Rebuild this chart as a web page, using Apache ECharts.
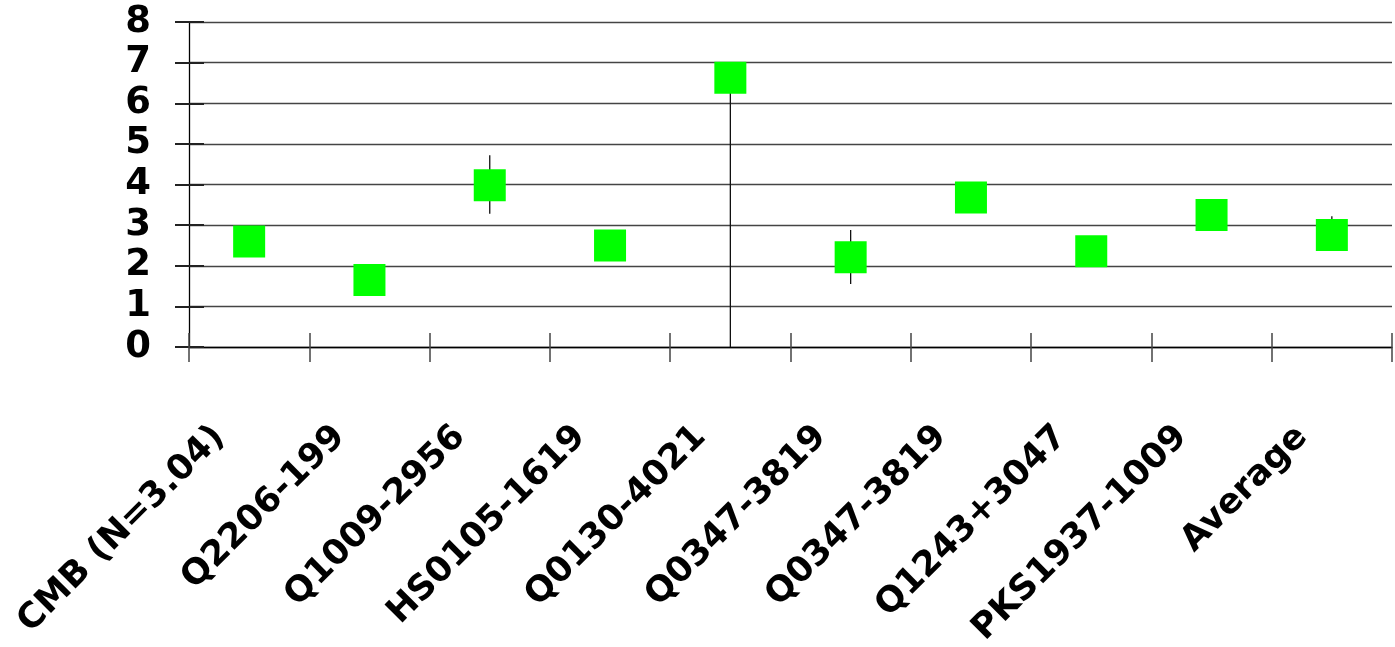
<!DOCTYPE html>
<html>
<head>
<meta charset="utf-8">
<script src="https://cdn.jsdelivr.net/npm/echarts@6/dist/echarts.min.js"></script>
<style>
html,body{margin:0;padding:0;background:#fff;}
#chart{width:1395px;height:647px;}
</style>
</head>
<body>
<div id="chart"></div>
<script>
var categories = ['CMB (N=3.04)', 'Q2206-199', 'Q1009-2956', 'HS0105-1619', 'Q0130-4021', 'Q0347-3819', 'Q0347-3819', 'Q1243+3047', 'PKS1937-1009', 'Average'];
var values = [2.6, 1.65, 3.98, 2.5, 6.63, 2.21, 3.68, 2.36, 3.25, 2.76];
var errLow = [null, null, 3.28, null, 0, 1.55, null, null, null, 2.4];
var errHigh = [null, null, 4.72, null, 6.63, 2.88, null, null, null, 3.22];
var yTicks = [0, 1, 2, 3, 4, 5, 6, 7, 8];

var font = '"DejaVu Sans", sans-serif';
var errData = [];
for (var i = 0; i < categories.length; i++) {
  if (errLow[i] !== null) errData.push([i, errLow[i], errHigh[i]]);
}

var chart = echarts.init(document.getElementById('chart'));
chart.setOption({
  animation: false,
  backgroundColor: '#fff',
  grid: {left: 189, right: 3, top: 22, bottom: 300, containLabel: false, outerBoundsMode: 'none'},
  xAxis: [{
    type: 'category',
    data: categories,
    boundaryGap: true,
    axisLine: {show: true, lineStyle: {color: '#000', width: 1.3}},
    axisTick: {show: true, inside: false, length: 15, lineStyle: {color: '#444', width: 1.5}},
    axisLabel: {
      interval: 0, rotate: 45, margin: 55, padding: [0, 42, 0, 0],
      fontFamily: font, fontWeight: 'bold', fontSize: 35, color: '#000'
    },
    splitLine: {show: false}
  }, {
    type: 'category',
    data: categories,
    position: 'bottom',
    boundaryGap: true,
    axisLine: {show: false},
    axisTick: {show: true, inside: true, length: 14, lineStyle: {color: '#444', width: 1.5}},
    axisLabel: {show: false},
    splitLine: {show: false}
  }],
  yAxis: [{
    type: 'value',
    min: yTicks[0], max: yTicks[yTicks.length - 1], interval: 1,
    position: 'left',
    axisLine: {show: true, lineStyle: {color: '#000', width: 1.3}},
    axisTick: {show: true, inside: false, length: 14, lineStyle: {color: '#222', width: 2}},
    axisLabel: {margin: 38, fontFamily: font, fontWeight: 'bold', fontSize: 37, color: '#000'},
    splitLine: {show: true, lineStyle: {color: '#444', width: 1.4}}
  }, {
    type: 'value',
    min: yTicks[0], max: yTicks[yTicks.length - 1], interval: 1,
    position: 'left', offset: 0,
    axisLine: {show: false},
    axisTick: {show: true, inside: true, length: 15, lineStyle: {color: '#222', width: 2}},
    axisLabel: {show: false},
    splitLine: {show: false}
  }],
  series: [{
    type: 'custom',
    xAxisIndex: 0, yAxisIndex: 0,
    z: 1,
    data: errData,
    renderItem: function (params, api) {
      var p1 = api.coord([api.value(0), api.value(1)]);
      var p2 = api.coord([api.value(0), api.value(2)]);
      return {
        type: 'line',
        shape: {x1: p1[0], y1: p1[1], x2: p2[0], y2: p2[1]},
        style: {stroke: '#111', lineWidth: 1.3}
      };
    }
  }, {
    type: 'scatter',
    xAxisIndex: 0, yAxisIndex: 0,
    z: 3,
    symbol: 'rect',
    symbolSize: 32,
    itemStyle: {color: '#00ff00', opacity: 1},
    data: values
  }]
});
</script>
</body>
</html>
